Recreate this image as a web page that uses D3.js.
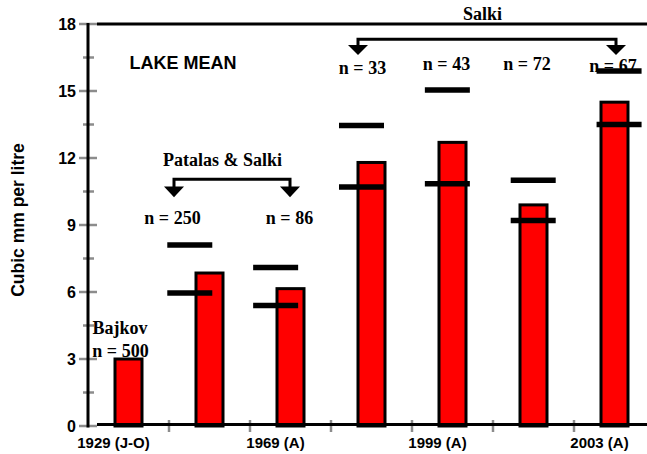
<!DOCTYPE html>
<html>
<head>
<meta charset="utf-8">
<script src="https://cdn.jsdelivr.net/npm/d3@7/dist/d3.min.js"></script>
<style>
  html, body { margin: 0; padding: 0; background: #fff; }
  svg { display: block; }
</style>
</head>
<body>
<svg id="chart" width="647" height="454"></svg>
<script>
// Sampling campaigns (one bar each), with axis labels under every other bar
const categories = ["s1", "s2", "s3", "s4", "s5", "s6", "s7"];
const tickLabels = ["1929 (J-O)", "", "1969 (A)", "", "1999 (A)", "", "2003 (A)"];

// Lake mean biomass (cubic mm per litre) and the range markers beside each bar
const lakeMean  = [3.0, 6.85, 6.15, 11.8, 12.7, 9.9, 14.5];
const rangeHigh = [null, 8.1, 7.1, 13.45, 15.05, 11.0, 15.9];
const rangeLow  = [null, 5.95, 5.4, 10.7, 10.85, 9.2, 13.5];

// Number of samples behind each mean
const sampleSizes = ["n = 500", "n = 250", "n = 86", "n = 33", "n = 43", "n = 72", "n = 67"];

// Data sources and which campaigns they cover
const sources = [
  { label: "Bajkov", from: "s1", to: "s1" },
  { label: "Patalas & Salki", from: "s2", to: "s3" },
  { label: "Salki", from: "s4", to: "s7" }
];

const yMajorTicks = [0, 3, 6, 9, 12, 15, 18];
const yMinorTicks = [1.5, 4.5, 7.5, 10.5, 13.5, 16.5];
const yTitle = "Cubic mm per litre";
const panelTitle = "LAKE MEAN";

// ---- drawing ----
const W = 647, H = 454;
const svg = d3.select("#chart");
svg.append("rect").attr("width", W).attr("height", H).attr("fill", "#fff");

const axisX = 88;
const y = d3.scaleLinear().domain([0, 18]).range([426, 24]);
const x = d3.scaleBand().domain(categories).range([axisX, 655]).padding(0);
// range markers sit on a slightly wider grid than the bars
const xMark = d3.scaleBand().domain(categories).range([61, 662]).padding(0);

const barW = 27;
const markW = 45;
const cx = c => x(c) + x.bandwidth() / 2;
const mx = c => xMark(c) + xMark.bandwidth() / 2;

const sans = "'Liberation Sans', Arial, Helvetica, sans-serif";
const serif = "'Liberation Serif', 'Times New Roman', Times, serif";
const tickGrey = "#8c8c8c";

const rows = categories.map((c, i) => ({
  c, mean: lakeMean[i], hi: rangeHigh[i], lo: rangeLow[i], n: sampleSizes[i], label: tickLabels[i]
}));

// Bars
svg.append("g").selectAll("rect").data(rows).join("rect")
  .attr("x", d => cx(d.c) - barW / 2)
  .attr("y", d => y(d.mean))
  .attr("width", barW)
  .attr("height", d => y(0) - y(d.mean))
  .attr("fill", "#ff0000")
  .attr("stroke", "#000")
  .attr("stroke-width", 3);

// Range markers (upper and lower)
const marks = rows.flatMap(d => [d.hi, d.lo].filter(v => v != null).map(v => ({ c: d.c, v })));
svg.append("g").selectAll("line").data(marks).join("line")
  .attr("x1", d => mx(d.c) - markW / 2)
  .attr("x2", d => mx(d.c) + markW / 2)
  .attr("y1", d => y(d.v))
  .attr("y2", d => y(d.v))
  .attr("stroke", "#000")
  .attr("stroke-width", 5.5);

// Y axis: minor and major ticks, then the axis lines
const ax = svg.append("g");
ax.selectAll("line.minor").data(yMinorTicks).join("line")
  .attr("class", "minor")
  .attr("x1", axisX - 5).attr("x2", axisX + 6)
  .attr("y1", d => y(d)).attr("y2", d => y(d))
  .attr("stroke", tickGrey).attr("stroke-width", 2.5);
ax.selectAll("line.major").data(yMajorTicks).join("line")
  .attr("class", "major")
  .attr("x1", axisX - 9).attr("x2", axisX + 9)
  .attr("y1", d => y(d)).attr("y2", d => y(d))
  .attr("stroke", tickGrey).attr("stroke-width", 2.5);
ax.selectAll("text").data(yMajorTicks).join("text")
  .attr("x", 76)
  .attr("y", d => y(d) + 6)
  .attr("text-anchor", "end")
  .attr("font-family", sans).attr("font-weight", "bold").attr("font-size", 16)
  .attr("fill", "#000")
  .text(d => d);

// X axis ticks at band boundaries
const xTickPos = categories.slice(1).map(c => x(c));
ax.selectAll("line.xt").data(xTickPos).join("line")
  .attr("class", "xt")
  .attr("x1", d => d).attr("x2", d => d)
  .attr("y1", y(0) - 6).attr("y2", y(0) + 6)
  .attr("stroke", tickGrey).attr("stroke-width", 2.5);

// Axis frame lines
ax.append("line")
  .attr("x1", axisX).attr("x2", axisX).attr("y1", y(18) - 1).attr("y2", y(0) + 1.5)
  .attr("stroke", "#000").attr("stroke-width", 3);
ax.append("line")
  .attr("x1", axisX + 9).attr("x2", W).attr("y1", y(0) - 1.5).attr("y2", y(0) - 1.5)
  .attr("stroke", "#000").attr("stroke-width", 3);
ax.append("line")
  .attr("x1", axisX + 9).attr("x2", W).attr("y1", y(18)).attr("y2", y(18))
  .attr("stroke", "#000").attr("stroke-width", 3);

// X tick labels
svg.append("g").selectAll("text").data(rows.filter(d => d.label)).join("text")
  .attr("x", d => cx(d.c) - 15)
  .attr("y", 448)
  .attr("text-anchor", "middle")
  .attr("font-family", sans).attr("font-weight", "bold").attr("font-size", 15)
  .attr("fill", "#000")
  .text(d => d.label);

// Y axis title
svg.append("text")
  .attr("transform", "translate(24,220) rotate(-90)")
  .attr("text-anchor", "middle")
  .attr("font-family", sans).attr("font-weight", "bold").attr("font-size", 17.5)
  .attr("fill", "#000")
  .text(yTitle);

// Panel title
svg.append("text")
  .attr("x", 129.5).attr("y", 69)
  .attr("font-family", sans).attr("font-weight", "bold").attr("font-size", 18)
  .attr("fill", "#000")
  .text(panelTitle);

// Sample size labels: horizontal nudge (px) and baseline (in data units)
const nLayout = {
  s1: { dx: -8,   v: 3.1 },
  s2: { dx: -37,  v: 9.05 },
  s3: { dx: -1,   v: 9.05 },
  s4: { dx: -9,   v: 15.75 },
  s5: { dx: -6,   v: 15.95 },
  s6: { dx: -6.5, v: 15.95 },
  s7: { dx: -1.5, v: 15.85 }
};
svg.append("g").selectAll("text").data(rows).join("text")
  .attr("x", d => cx(d.c) + nLayout[d.c].dx)
  .attr("y", d => y(nLayout[d.c].v))
  .attr("text-anchor", "middle")
  .attr("font-family", serif).attr("font-weight", "bold").attr("font-size", 18)
  .attr("fill", "#000")
  .text(d => d.n);

// Source annotations: single label, or a bracket with arrows over a run of bars
const srcLayout = {
  "Bajkov":          { dx: -8.5, labelV: 4.1 },
  "Patalas & Salki": { dxFrom: -35.5, dxTo: -0.5, barV: 11.05, headV: 10.72, tipV: 10.24, labelV: 11.64, labelDx: -9.5 },
  "Salki":           { dxFrom: -13.5, dxTo: 1.5,  barV: 17.32, headV: 17.06, tipV: 16.61, labelV: 18.18, labelDx: -4.5 }
};
const ann = svg.append("g");
sources.forEach(s => {
  const L = srcLayout[s.label];
  if (s.from === s.to) {
    ann.append("text")
      .attr("x", cx(s.from) + L.dx).attr("y", y(L.labelV))
      .attr("text-anchor", "middle")
      .attr("font-family", serif).attr("font-weight", "bold").attr("font-size", 18)
      .attr("fill", "#000")
      .text(s.label);
    return;
  }
  const x1 = cx(s.from) + L.dxFrom, x2 = cx(s.to) + L.dxTo;
  ann.append("path")
    .attr("d", `M${x1},${y(L.headV) + 1}V${y(L.barV)}H${x2}V${y(L.headV) + 1}`)
    .attr("fill", "none").attr("stroke", "#000").attr("stroke-width", 3);
  [x1, x2].forEach(px => {
    ann.append("path")
      .attr("d", `M${px - 10},${y(L.headV)}L${px + 10},${y(L.headV)}L${px},${y(L.tipV)}Z`)
      .attr("fill", "#000");
  });
  ann.append("text")
    .attr("x", (x1 + x2) / 2 + L.labelDx).attr("y", y(L.labelV))
    .attr("text-anchor", "middle")
    .attr("font-family", serif).attr("font-weight", "bold").attr("font-size", 18)
    .attr("fill", "#000")
    .text(s.label);
});
</script>
</body>
</html>
